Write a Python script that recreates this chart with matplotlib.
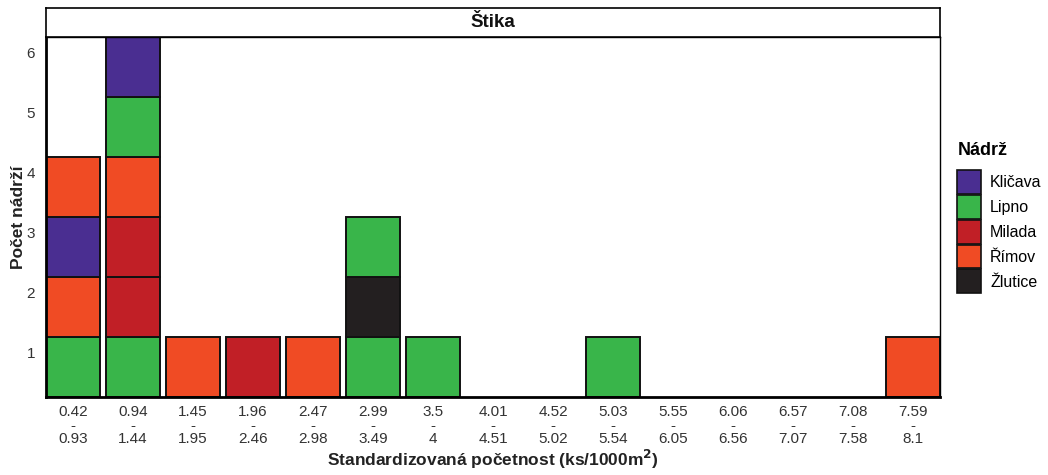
import matplotlib
matplotlib.use('Agg')
import matplotlib.pyplot as plt
from matplotlib.patches import Rectangle, Patch

plt.rcParams['font.family'] = ['Liberation Sans', 'DejaVu Sans']

bin_low = ['0.42', '0.94', '1.45', '1.96', '2.47', '2.99', '3.5', '4.01',
           '4.52', '5.03', '5.55', '6.06', '6.57', '7.08', '7.59']
bin_high = ['0.93', '1.44', '1.95', '2.46', '2.98', '3.49', '4', '4.51',
            '5.02', '5.54', '6.05', '6.56', '7.07', '7.58', '8.1']

# reservoirs stacked in each bin, bottom to top
stacks = [
    ['Lipno', 'Římov', 'Kličava', 'Římov'],
    ['Lipno', 'Milada', 'Milada', 'Římov', 'Lipno', 'Kličava'],
    ['Římov'],
    ['Milada'],
    ['Římov'],
    ['Lipno', 'Žlutice', 'Lipno'],
    ['Lipno'],
    [],
    [],
    ['Lipno'],
    [],
    [],
    [],
    [],
    ['Římov'],
]

nadrze = ['Kličava', 'Lipno', 'Milada', 'Římov', 'Žlutice']
barvy = ['#4a2e91', '#39b54a', '#c11f26', '#f04b24', '#231f20']
col = dict(zip(nadrze, barvy))

fig = plt.figure(figsize=(10.48, 4.75), dpi=100)
ax = fig.add_axes([46 / 1048, 1 - 397 / 475, 894 / 1048, 360 / 475])

for i, stack in enumerate(stacks):
    for k, name in enumerate(stack):
        lvl = k + 1
        ax.add_patch(Rectangle((i - 0.45, lvl - 0.75), 0.9, 1.0,
                               facecolor=col[name], edgecolor='#111111',
                               linewidth=1.4))

ax.set_xlim(-0.45, len(bin_low) - 0.55)
ax.set_ylim(0.25, 6.25)
ax.set_xticks(range(len(bin_low)))
ax.set_xticklabels([f'{a}\n-\n{b}' for a, b in zip(bin_low, bin_high)],
                   fontsize=11, color='#333333', linespacing=0.95)
ax.set_yticks(range(1, 7))
ax.set_yticklabels([str(v) for v in range(1, 7)], fontsize=11, color='#333333')
ax.tick_params(axis='x', length=0, pad=6)
ax.tick_params(axis='y', length=0, pad=8)
for s in ax.spines.values():
    s.set_linewidth(1.0)
    s.set_color('black')
ax.spines['left'].set_linewidth(2.0)
ax.spines['bottom'].set_linewidth(2.0)

ax.set_xlabel('Standardizovaná početnost (ks/1000m$\\mathbf{^2}$)',
              fontsize=12.5, fontweight='bold', color='#222222', labelpad=1)
ax.set_ylabel('Počet nádrží', fontsize=12.5, fontweight='bold', color='#222222', labelpad=0)

# facet strip
strip = fig.add_axes([46 / 1048, 1 - 37 / 475, 894 / 1048, 29 / 475])
strip.set_xticks([])
strip.set_yticks([])
for s in strip.spines.values():
    s.set_linewidth(1.2)
strip.text(0.5, 0.5, 'Štika', ha='center', va='center', fontsize=13.5,
           fontweight='bold', color='#111111', transform=strip.transAxes)

handles = [Patch(facecolor=c, edgecolor='#111111', linewidth=1.2) for c in barvy]
leg = fig.legend(handles, nadrze, title='Nádrž', loc='upper left',
                 bbox_to_anchor=(951 / 1048, 1 - 136 / 475), frameon=False,
                 fontsize=11.5, title_fontproperties={'weight': 'bold', 'size': 13},
                 handlelength=1.5, handleheight=1.93, handletextpad=0.55,
                 labelspacing=0.06, borderaxespad=0)
leg._legend_box.align = 'left'
leg._legend_box.sep = 7.5

fig.savefig('out.png', dpi=100)
